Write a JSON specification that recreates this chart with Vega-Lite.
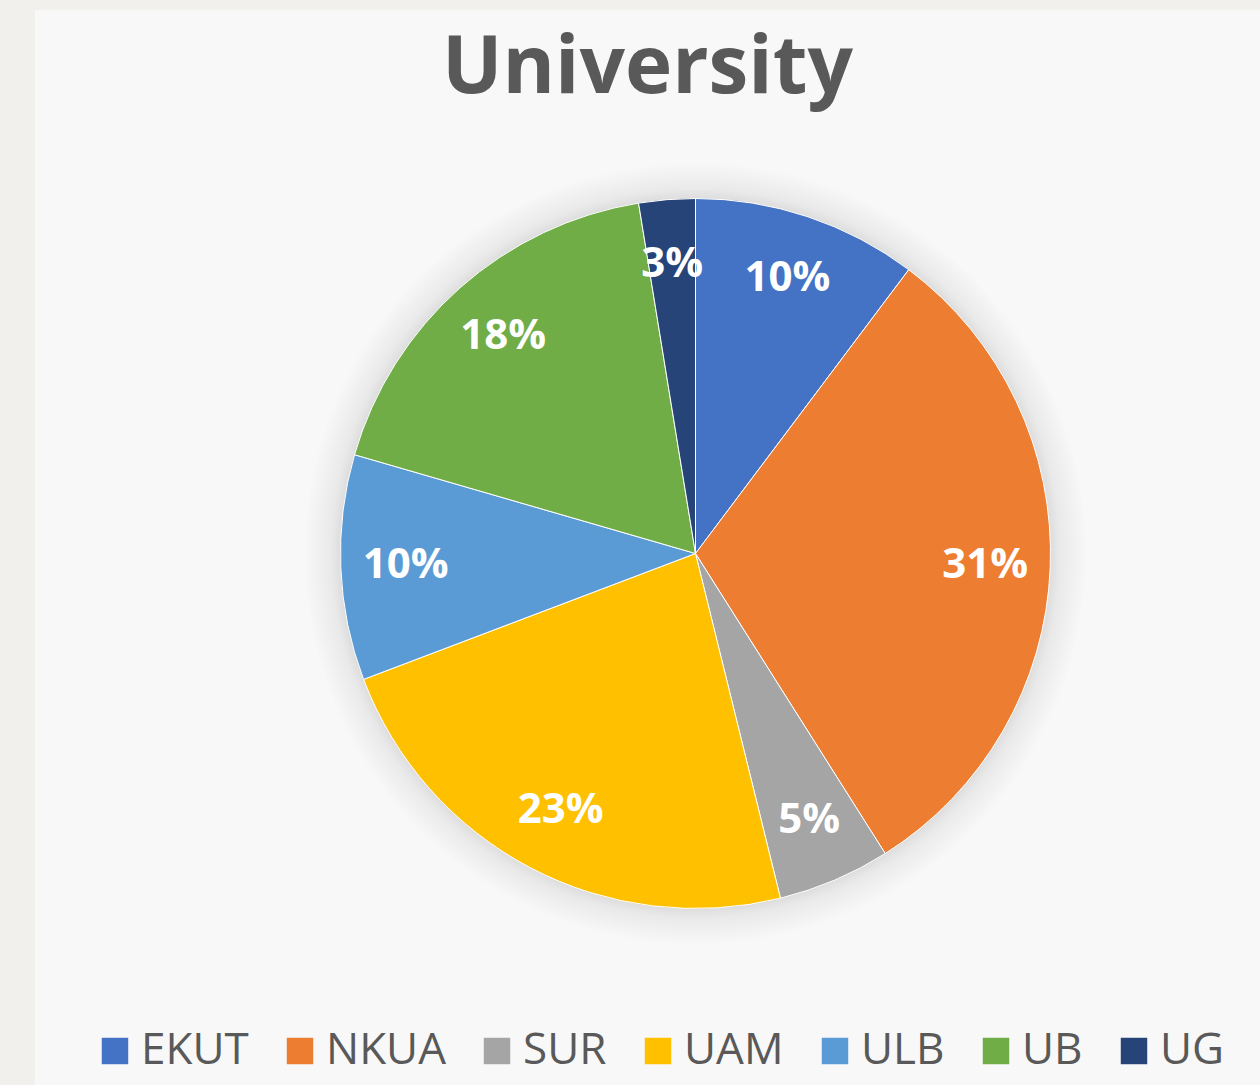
{
  "$schema": "https://vega.github.io/schema/vega-lite/v6.json",
  "autosize": {"type": "fit", "contains": "padding"},
  "width": 1260,
  "height": 1085,
  "padding": {"left": 35, "top": 10, "right": 0, "bottom": 0},
  "background": "#f2f0ec",
  "view": {"fill": "#f8f8f8", "stroke": null},
  "title": {
    "text": "University",
    "font": "Open Sans",
    "fontSize": 80,
    "fontWeight": "bold",
    "color": "#595959",
    "anchor": "middle",
    "offset": -100
  },
  "data": {
    "values": [
      {"university": "EKUT", "count": 4},
      {"university": "NKUA", "count": 12},
      {"university": "SUR", "count": 2},
      {"university": "UAM", "count": 9},
      {"university": "ULB", "count": 4},
      {"university": "UB", "count": 7},
      {"university": "UG", "count": 1}
    ]
  },
  "transform": [
    {"window": [{"op": "row_number", "as": "rank"}]},
    {"joinaggregate": [{"op": "sum", "field": "count", "as": "total"}]},
    {"calculate": "format(datum.count / datum.total, '.0%')", "as": "pct"}
  ],
  "layer": [
    {
      "data": {"values": [{"shadow": 1}]},
      "mark": {
        "type": "arc",
        "theta": 0,
        "theta2": 6.2832,
        "radius": 392,
        "x": {"expr": "width/2 + 48"},
        "y": {"expr": "height/2 + 6"},
        "fill": {
          "gradient": "radial",
          "x1": 0.5, "y1": 0.5, "r1": 0,
          "x2": 0.5, "y2": 0.5, "r2": 0.5,
          "stops": [
            {"offset": 0.88, "color": "rgba(0,0,0,0.16)"},
            {"offset": 0.93, "color": "rgba(0,0,0,0.06)"},
            {"offset": 1, "color": "rgba(0,0,0,0)"}
          ]
        }
      },
      "encoding": {}
    },
    {
      "mark": {
        "type": "arc",
        "radius": 355,
        "stroke": "#ffffff",
        "strokeWidth": 1,
        "x": {"expr": "width/2 + 48"},
        "y": {"expr": "height/2 + 6"}
      },
      "encoding": {
        "theta": {"field": "count", "type": "quantitative", "stack": true},
        "order": {"field": "rank", "type": "quantitative", "sort": "ascending"},
        "color": {
          "field": "university",
          "type": "nominal",
          "sort": ["EKUT", "NKUA", "SUR", "UAM", "ULB", "UB", "UG"],
          "scale": {
            "domain": ["EKUT", "NKUA", "SUR", "UAM", "ULB", "UB", "UG"],
            "range": ["#4472C4", "#ED7D31", "#A5A5A5", "#FFC000", "#5B9BD5", "#70AD47", "#264478"]
          },
          "legend": {
            "title": null,
            "orient": "none",
            "direction": "horizontal",
            "columns": 7,
            "legendX": 58,
            "legendY": 1019,
            "symbolType": "square",
            "symbolSize": 700,
            "symbolStrokeWidth": 0,
            "labelFont": "Open Sans",
            "labelFontSize": 44,
            "labelColor": "#595959",
            "labelOffset": 4,
            "columnPadding": 29
          }
        }
      }
    },
    {
      "mark": {
        "type": "text",
        "radius": 290,
        "font": "Open Sans",
        "fontSize": 42,
        "fontWeight": "bold",
        "fill": "#ffffff",
        "x": {"expr": "width/2 + 48"},
        "y": {"expr": "height/2 + 6"}
      },
      "encoding": {
        "theta": {"field": "count", "type": "quantitative", "stack": true},
        "order": {"field": "rank", "type": "quantitative", "sort": "ascending"},
        "text": {"field": "pct", "type": "nominal"}
      }
    }
  ]
}
